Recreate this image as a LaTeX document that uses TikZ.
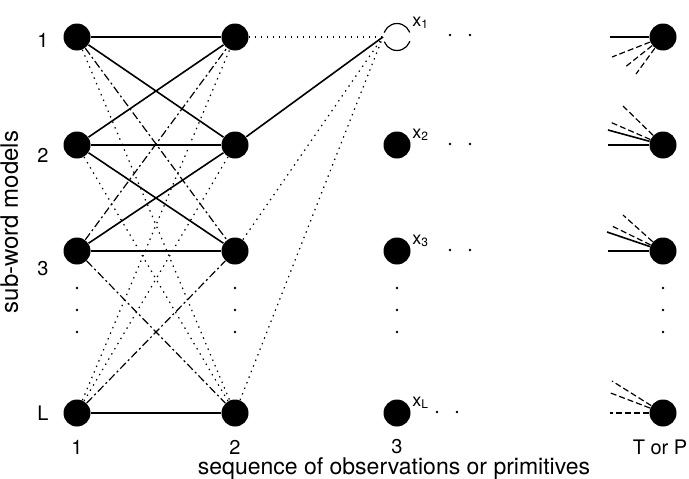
\documentclass[tikz,border=0pt]{standalone}
\usepackage{fontspec}
\setmainfont{TeX Gyre Heros}
\usepackage{tikz}

\begin{document}
\begin{tikzpicture}[x=0.5pt, y=0.5pt,
  font=\fontsize{10}{12}\selectfont,
  vdots/.pic={
    \fill (0,0) circle (1.4);
    \fill (0,-22) circle (1.4);
    \fill (0,-44) circle (1.4);
  },
  hdots/.pic={
    \fill (0,0) circle (1.4);
    \fill (20,0) circle (1.4);
  },
  solidline/.style={line width=0.8pt},
  dashline/.style={line width=0.6pt, dash pattern=on 4pt off 1.5pt on 1pt off 1.5pt},
  dotline/.style={line width=0.6pt, dash pattern=on 0.7pt off 2.3pt},
  stubline/.style={line width=0.6pt, dash pattern=on 3pt off 1.5pt}
]
    \useasboundingbox (0,0) rectangle (689,478);

    % states of the trellis
    \begin{scope}[every node/.style={circle, fill=black, inner sep=0pt, minimum size=13.5pt}]
        \node (a1) at (77,441) {};
        \node (a2) at (77,333) {};
        \node (a3) at (77,227) {};
        \node (aL) at (77,65) {};
        \node (b1) at (235,441) {};
        \node (b2) at (235,333) {};
        \node (b3) at (235,227) {};
        \node (bL) at (235,65) {};
        \node (c2) at (397,333) {};
        \node (c3) at (397,227) {};
        \node (cL) at (397,65) {};
        \node (t1) at (663,441) {};
        \node (t2) at (663,333) {};
        \node (t3) at (663,227) {};
        \node (tL) at (663,65) {};
    \end{scope}
    \node (c1) at (397,441) [circle, draw, inner sep=0pt, minimum size=13.5pt, line width=0.6pt,
        dash pattern=on 16.6pt off 4.6pt, dash phase=18.9pt] {};

    % row and column labels
    \node (r1) at (43,438) {1};
    \node (r2) at (43,323) {2};
    \node (r3) at (43,209) {3};
    \node (rL) at (43,65) {L};
    \node (k1) at (77,31) {1};
    \node (k2) at (235,31) {2};
    \node (k3) at (397,31) {3};
    \node (kT) at (660,31) {T or P};
    \node (ylabel) at (18,256) [rotate=90, anchor=base, font=\fontsize{12}{14}\selectfont] {sub-word models};
    \node (xlabel) at (394,4) [anchor=base, inner sep=0pt, font=\fontsize{11.5}{13}\selectfont] {sequence of observations or primitives};

    \node (x1) at (412,455) [anchor=west, inner sep=0pt, font=\fontsize{9}{10}\selectfont] {x\textsubscript{1}};
    \node (x2) at (412,343) [anchor=west, inner sep=0pt, font=\fontsize{9}{10}\selectfont] {x\textsubscript{2}};
    \node (x3) at (412,237) [anchor=west, inner sep=0pt, font=\fontsize{9}{10}\selectfont] {x\textsubscript{3}};
    \node (xL) at (412,75) [anchor=west, inner sep=0pt, font=\fontsize{9}{10}\selectfont] {x\textsubscript{L}};

    % dots
    \pic at (77,190) {vdots};
    \pic at (235,190) {vdots};
    \pic at (397,190) {vdots};
    \pic at (663,190) {vdots};
    \pic at (450,443) {hdots};
    \pic at (450,334) {hdots};
    \pic at (450,228) {hdots};
    \pic at (437,66) {hdots};

    % transitions from 1 to 2
    \draw[solidline] (a1) -- (b1);
    \draw[solidline] (a1) -- (b2);
    \draw[solidline] (a2) -- (b1);
    \draw[solidline] (a2) -- (b2);
    \draw[solidline] (a2) -- (b3);
    \draw[solidline] (a3) -- (b2);
    \draw[solidline] (a3) -- (b3);
    \draw[solidline] (aL) -- (bL);
    \draw[dashline] (a1) -- (b3);
    \draw[dashline] (a3) -- (b1);
    \draw[dashline] (a3) -- (bL);
    \draw[dashline] (aL) -- (b3);
    \draw[dotline] (a1) -- (bL);
    \draw[dotline] (aL) -- (b1);
    \draw[dotline] (a2) -- (bL);
    \draw[dotline] (aL) -- (b2);

    % transitions from 2 to 3
    \draw[dotline] (b1) -- (c1.west);
    \draw[solidline] (b2) -- (c1.west);
    \draw[dotline] (b3) -- (c1.west);
    \draw[dotline] (bL) -- (c1.west);

    % transitions into T
    \coordinate (t1a) at (610,441);
    \coordinate (t1b) at (612,421);
    \coordinate (t1c) at (624,410);
    \coordinate (t1d) at (636,404);
    \coordinate (t2a) at (608,333);
    \coordinate (t2b) at (608,348);
    \coordinate (t2c) at (610,356);
    \coordinate (t2d) at (623,372);
    \coordinate (t3a) at (608,227);
    \coordinate (t3b) at (607,246);
    \coordinate (t3c) at (612,252);
    \coordinate (t3d) at (623,263);
    \coordinate (tLa) at (610,65);
    \coordinate (tLb) at (608,86);
    \coordinate (tLc) at (612,97);
    \draw[solidline] (t1) -- (t1a);
    \draw[stubline] (t1) -- (t1b);
    \draw[stubline] (t1) -- (t1c);
    \draw[stubline] (t1) -- (t1d);
    \draw[solidline] (t2) -- (t2a);
    \draw[solidline] (t2) -- (t2b);
    \draw[stubline] (t2) -- (t2c);
    \draw[stubline] (t2) -- (t2d);
    \draw[solidline] (t3) -- (t3a);
    \draw[solidline] (t3) -- (t3b);
    \draw[stubline] (t3) -- (t3c);
    \draw[stubline] (t3) -- (t3d);
    \draw[stubline] (tL) -- (tLa);
    \draw[stubline] (tL) -- (tLb);
    \draw[stubline] (tL) -- (tLc);
\end{tikzpicture}
\end{document}
